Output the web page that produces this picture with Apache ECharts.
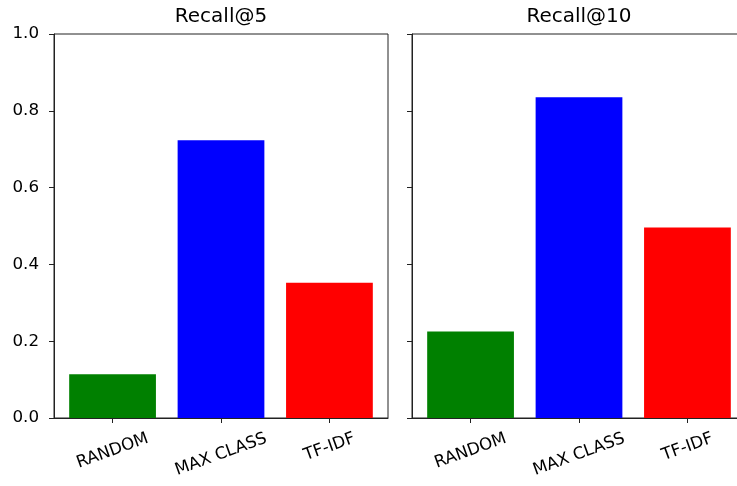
<!DOCTYPE html>
<html>
<head>
<meta charset="utf-8">
<script src="https://cdn.jsdelivr.net/npm/echarts@6/dist/echarts.min.js"></script>
<style>html,body{margin:0;padding:0;background:#fff;overflow:hidden;}#chart{width:737px;height:486px;}</style>
</head>
<body>
<div id="chart"></div>
<script>
// ---- data ----
const categories = ['RANDOM', 'MAX CLASS', 'TF-IDF'];
const recallAt5 = [0.114, 0.723, 0.352];
const recallAt10 = [0.225, 0.835, 0.496];
const panelTitles = ['Recall@5', 'Recall@10'];
const yMin = 0, yMax = 1, yStep = 0.2;

// ---- style / layout ----
const barColors = ['#008000', '#0000ff', '#ff0000'];
const FONT = 'DejaVu Sans';
const tickFont = 16.7, titleFont = 20;
const gridTop = 34, gridH = 384, gridW = 334;
const gridLefts = [54, 412];
const xMin = -0.54, xMax = categories.length - 1 + 0.54;
const barW = 0.8 * gridW / (xMax - xMin);
const rot = 20, th = rot * Math.PI / 180;

const ctx = document.createElement('canvas').getContext('2d');
function textW(t, size) { ctx.font = size + 'px "' + FONT + '"'; return ctx.measureText(t).width; }

// per-label offset so that rotated boxes hang from a common top line (matplotlib style)
const rich = {};
categories.forEach((c, i) => {
  const d = textW(c, tickFont) * Math.sin(th) / 2;
  rich['l' + i] = {
    fontFamily: FONT, fontSize: tickFont, color: '#000',
    padding: [2 * d * Math.cos(th), 2 * d * Math.sin(th), 0, 0]
  };
});

const series = [recallAt5, recallAt10];
const option = {
  animation: false,
  backgroundColor: '#fff',
  title: panelTitles.map((t, k) => ({
    text: t,
    left: gridLefts[k] + gridW / 2 - textW(t, titleFont) / 2,
    top: 7,
    padding: 0,
    textStyle: { fontFamily: FONT, fontSize: titleFont, fontWeight: 'normal', color: '#000' }
  })),
  grid: gridLefts.map(l => ({
    left: l, top: gridTop, width: gridW, height: gridH,
    outerBoundsMode: 'none',
    show: true, borderColor: '#222', borderWidth: 1, backgroundColor: 'transparent',
    containLabel: false
  })),
  xAxis: gridLefts.map((l, k) => ({
    type: 'value', gridIndex: k, min: xMin, max: xMax,
    splitLine: { show: false },
    axisLine: { show: true, onZero: false, lineStyle: { color: '#222', width: 1 } },
    axisTick: { show: true, length: 5, lineStyle: { color: '#222' }, customValues: categories.map((c, i) => i) },
    axisLabel: {
      show: true, customValues: categories.map((c, i) => i),
      rotate: rot, align: 'center', verticalAlign: 'middle', margin: 20,
      fontFamily: FONT, fontSize: tickFont, color: '#000',
      formatter: v => { const i = Math.round(v); return '{l' + i + '|' + categories[i] + '}'; },
      rich: rich
    }
  })),
  yAxis: gridLefts.map((l, k) => ({
    type: 'value', gridIndex: k, min: yMin, max: yMax, interval: yStep,
    splitLine: { show: false },
    axisLine: { show: true, onZero: false, lineStyle: { color: '#222', width: 1 } },
    axisTick: { show: true, length: 5, lineStyle: { color: '#222' } },
    axisLabel: {
      show: k === 0, margin: 15, fontFamily: FONT, fontSize: tickFont, color: '#000',
      formatter: v => v.toFixed(1)
    }
  })),
  series: series.map((vals, k) => ({
    type: 'bar', xAxisIndex: k, yAxisIndex: k, barWidth: barW,
    data: vals.map((v, i) => ({ value: [i, v], itemStyle: { color: barColors[i] } }))
  }))
};

const chart = echarts.init(document.getElementById('chart'), null, { renderer: 'canvas' });
chart.setOption(option);
</script>
</body>
</html>
